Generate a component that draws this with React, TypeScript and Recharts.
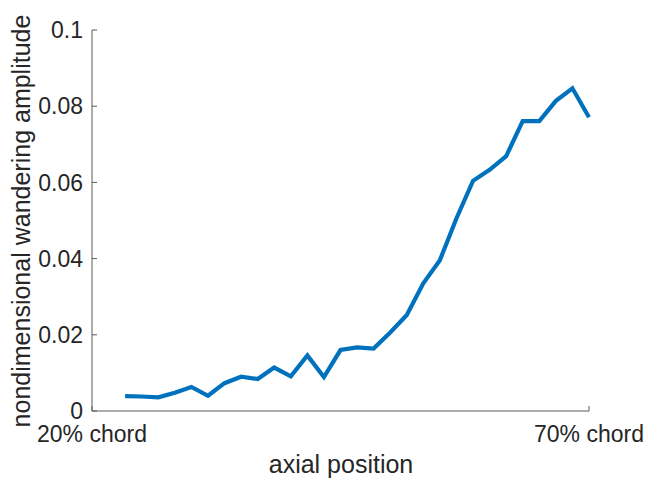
import React from 'react';
import { LineChart, Line, XAxis, YAxis } from 'recharts';

const chordPercent = [23.33, 25.0, 26.67, 28.33, 30.0, 31.67, 33.33, 35.0, 36.67, 38.33, 40.0, 41.67, 43.33, 45.0, 46.67, 48.33, 50.0, 51.67, 53.33, 55.0, 56.67, 58.33, 60.0, 61.67, 63.33, 65.0, 66.67, 68.33, 70.0];
const amplitude = [0.0039, 0.0038, 0.0036, 0.0048, 0.0063, 0.0040, 0.0073, 0.0090, 0.0084, 0.0114, 0.0091, 0.0146, 0.0089, 0.0160, 0.0167, 0.0164, 0.0206, 0.0252, 0.0335, 0.0396, 0.0506, 0.0604, 0.0633, 0.0669, 0.0761, 0.0761, 0.0814, 0.0847, 0.0771];
const xTicks = [20, 70];
const xTickLabels = ['20% chord', '70% chord'];
const yTicks = [0, 0.02, 0.04, 0.06, 0.08, 0.1];
const yTickLabels = ['0', '0.02', '0.04', '0.06', '0.08', '0.1'];

const data = chordPercent.map((x, i) => ({ x, y: amplitude[i] }));

const FONT = '"Liberation Sans", Arial, Helvetica, sans-serif';
const TEXT = '#262626';
const AXIS = '#5a5a5a';

const XTick = (props: any) => {
  const { x, y, payload } = props;
  const idx = xTicks.indexOf(payload.value);
  return (
    <g>
      <line x1={x} y1={y} x2={x} y2={y - 5} stroke={AXIS} strokeWidth={1} />
      <text x={x} y={y + 31} textAnchor="middle" fill={TEXT} fontSize={23} fontFamily={FONT}>
        {idx >= 0 ? xTickLabels[idx] : ''}
      </text>
    </g>
  );
};

const YTick = (props: any) => {
  const { x, y, payload } = props;
  const idx = yTicks.indexOf(payload.value);
  return (
    <g>
      <line x1={x} y1={y} x2={x + 5} y2={y} stroke={AXIS} strokeWidth={1} />
      <text x={x - 9} y={y} dy="0.36em" textAnchor="end" fill={TEXT} fontSize={23} fontFamily={FONT}>
        {idx >= 0 ? yTickLabels[idx] : ''}
      </text>
    </g>
  );
};

export default function App() {
  return (
    <div style={{ position: 'absolute', left: 0, top: 0, width: 660, height: 478, background: '#fff' }}>
      <LineChart width={660} height={478} data={data} margin={{ top: 30, right: 71, bottom: 27, left: 32 }}>
        <XAxis
          dataKey="x"
          type="number"
          domain={[20, 70]}
          ticks={xTicks}
          tickSize={0}
          tickMargin={0}
          tickLine={false}
          tick={<XTick />}
          height={40}
          stroke={AXIS}
          interval={0}
        />
        <YAxis
          type="number"
          domain={[0, 0.1]}
          ticks={yTicks}
          tickSize={0}
          tickMargin={0}
          tickLine={false}
          tick={<YTick />}
          width={60}
          stroke={AXIS}
          interval={0}
        />
        <Line
          type="linear"
          dataKey="y"
          stroke="#0072BD"
          strokeWidth={4.2}
          dot={false}
          activeDot={false}
          isAnimationActive={false}
        />
        <text x={341} y={473} textAnchor="middle" fill={TEXT} fontSize={25} fontFamily={FONT}>
          axial position
        </text>
        <text
          x={30}
          y={221}
          textAnchor="middle"
          fill={TEXT}
          fontSize={25}
          fontFamily={FONT}
          transform="rotate(-90 30 221)"
        >
          nondimensional wandering amplitude
        </text>
      </LineChart>
    </div>
  );
}
